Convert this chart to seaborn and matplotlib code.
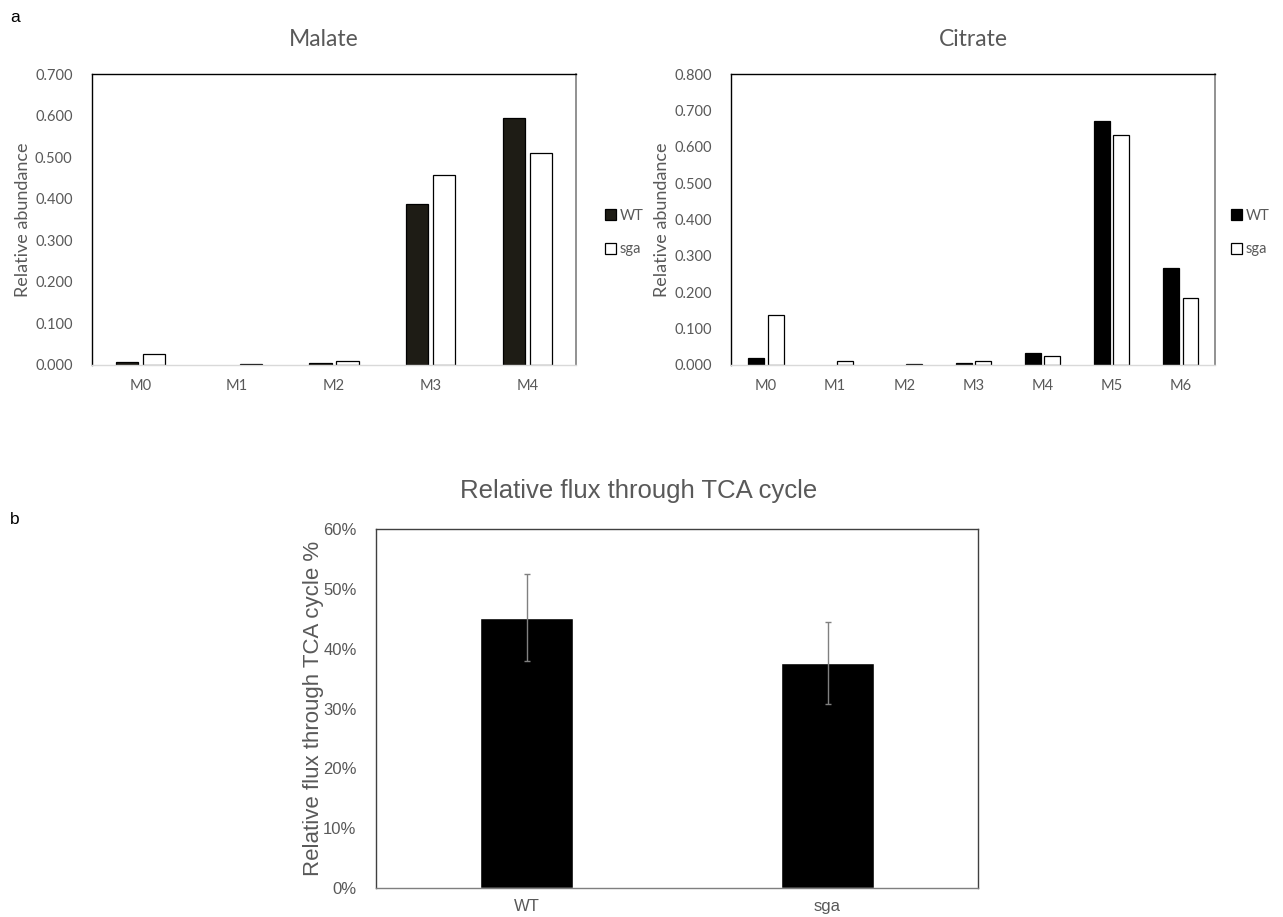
import numpy as np
import pandas as pd
import matplotlib
matplotlib.use("Agg")
import matplotlib.pyplot as plt
import seaborn as sns
from matplotlib.ticker import PercentFormatter, MultipleLocator

# ---- data -------------------------------------------------------------
genotypes = ["WT", "sga"]

malate_isotopologues = ["M0", "M1", "M2", "M3", "M4"]
malate_wt = [0.007, 0.000, 0.004, 0.387, 0.594]
malate_sga = [0.026, 0.002, 0.009, 0.456, 0.510]

citrate_isotopologues = ["M0", "M1", "M2", "M3", "M4", "M5", "M6"]
citrate_wt = [0.019, 0.000, 0.000, 0.005, 0.033, 0.671, 0.267]
citrate_sga = [0.137, 0.010, 0.003, 0.012, 0.025, 0.632, 0.184]

flux_mean = [0.452, 0.376]
flux_err = [0.072, 0.068]

# ---- style ------------------------------------------------------------
sns.set_theme(style="white")
plt.rcParams["font.family"] = ["Lato", "DejaVu Sans"]
GREY = "#595959"
ARIAL = ["Liberation Sans"]

fig = plt.figure(figsize=(12.83, 9.17), dpi=100)


def long_table(labels, wt, sga):
    return pd.DataFrame({
        "iso": list(labels) * 2,
        "value": list(wt) + list(sga),
        "genotype": ["WT"] * len(labels) + ["sga"] * len(labels),
    })


def isotopologue_panel(rect, title, title_x, labels, wt, sga, wt_color,
                       ymax, legend_x):
    ax = fig.add_axes(rect)
    df = long_table(labels, wt, sga)
    sns.barplot(data=df, x="iso", y="value", hue="genotype",
                hue_order=genotypes, palette={"WT": wt_color, "sga": "white"},
                edgecolor="black", linewidth=0.9, width=0.56, gap=0.18,
                errorbar=None, ax=ax)
    # zero-height bars leave no outline
    for bar in ax.patches:
        if bar.get_height() == 0:
            bar.set_visible(False)
    ax.set_xlim(-0.5, len(labels) - 0.5)
    ax.set_ylim(0, ymax)
    ax.yaxis.set_major_locator(MultipleLocator(0.1))
    ax.yaxis.set_major_formatter(lambda v, p: f"{v:.3f}")
    ax.set_xlabel("")
    ax.set_ylabel("Relative abundance", fontsize=13, color=GREY, labelpad=3)
    ax.set_title(title, fontsize=16.5, color=GREY, pad=20, x=title_x)
    ax.tick_params(axis="both", length=0, labelsize=10.5, labelcolor=GREY)
    ax.tick_params(axis="y", pad=14)
    ax.tick_params(axis="x", pad=10)
    for side in ("left", "top"):
        ax.spines[side].set_color("black")
        ax.spines[side].set_linewidth(1.0)
    ax.spines["right"].set_color("#7f7f7f")
    ax.spines["right"].set_linewidth(1.2)
    ax.spines["bottom"].set_color("#d9d9d9")
    ax.spines["bottom"].set_linewidth(1.0)
    sns.move_legend(ax, loc="center left", bbox_to_anchor=(legend_x, 0.455),
                    frameon=False, title=None, fontsize=10.5,
                    handlelength=0.75, handleheight=0.75, handletextpad=0.25,
                    labelspacing=1.35, borderpad=0, borderaxespad=0,
                    labelcolor=GREY)
    return ax


isotopologue_panel([0.0717, 0.6020, 0.3772, 0.3173], "Malate", 0.479,
                   malate_isotopologues, malate_wt, malate_sga, "#1f1d14",
                   0.7, 1.06)
isotopologue_panel([0.5701, 0.6020, 0.3772, 0.3173], "Citrate", 0.5,
                   citrate_isotopologues, citrate_wt, citrate_sga, "black",
                   0.8, 1.033)

# ---- relative flux panel ---------------------------------------------
axb = fig.add_axes([0.2931, 0.0316, 0.4692, 0.3915])
flux_df = pd.DataFrame({"genotype": genotypes, "flux": flux_mean})
sns.barplot(data=flux_df, x="genotype", y="flux", color="black",
            saturation=1, width=0.31, errorbar=None, ax=axb)
axb.errorbar(x=np.arange(len(genotypes)), y=flux_mean, yerr=flux_err,
             fmt="none", ecolor="#808080", elinewidth=1.0, capsize=2.5,
             capthick=1.0)
axb.set_xlim(-0.5, len(genotypes) - 0.5)
axb.set_ylim(0, 0.6)
axb.yaxis.set_major_locator(MultipleLocator(0.1))
axb.yaxis.set_major_formatter(PercentFormatter(1.0, decimals=0))
axb.set_xlabel("")
axb.set_ylabel("Relative flux through TCA cycle %", fontsize=16,
               color=GREY, family=ARIAL, labelpad=-1)
axb.set_title("Relative flux through TCA cycle", fontsize=18.5, color=GREY,
              family=ARIAL, pad=22, x=0.437)
axb.tick_params(axis="both", length=0, labelsize=12, labelcolor=GREY)
axb.tick_params(axis="y", pad=14)
axb.tick_params(axis="x", pad=8)
for lab in axb.get_xticklabels() + axb.get_yticklabels():
    lab.set_family(ARIAL)
for side in ("left", "top", "right", "bottom"):
    axb.spines[side].set_color("#404040")
    axb.spines[side].set_linewidth(1.0)
axb.spines["bottom"].set_color("#7f7f7f")

# panel letters
fig.text(0.008, 0.981, "a", fontsize=12.5, family=ARIAL,
         color="black", va="center")
fig.text(0.008, 0.433, "b", fontsize=12.5, family=ARIAL,
         color="black", va="center")

fig.savefig("out.png", dpi=100)
